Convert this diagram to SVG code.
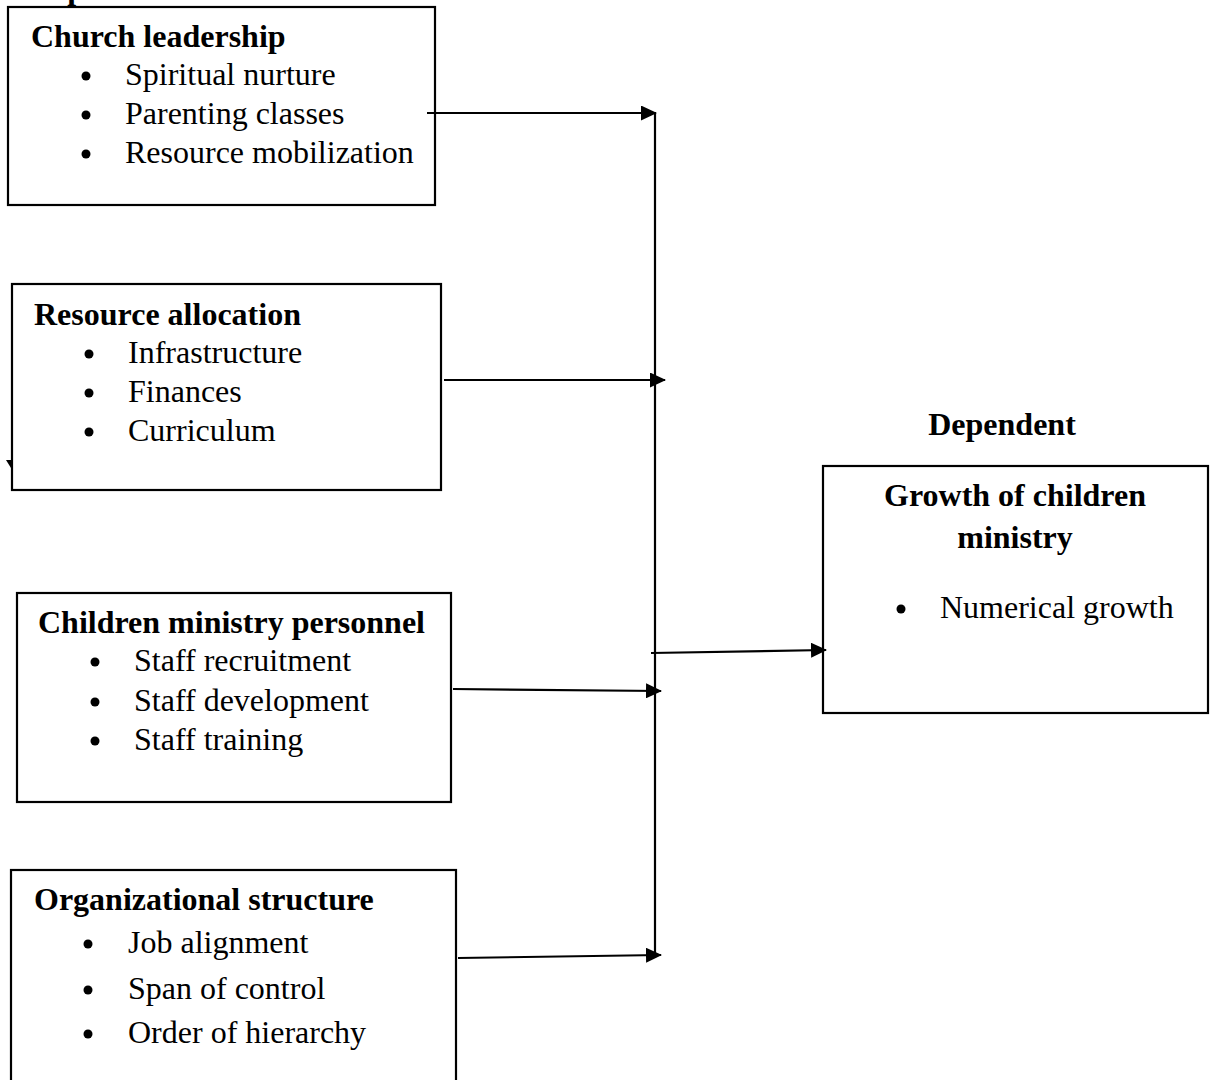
<svg xmlns="http://www.w3.org/2000/svg" width="1214" height="1080" viewBox="0 0 1214 1080">
<defs>
<style>
.box{fill:#fff;stroke:#000;stroke-width:2.2}
.h{font-family:"Liberation Serif","Times New Roman",serif;font-size:32px;font-weight:bold;fill:#000}
.t{font-family:"Liberation Serif","Times New Roman",serif;font-size:32px;fill:#000}
.b{fill:#000}
.c{stroke:#000;stroke-width:2.2;fill:none}
</style>
<marker id="ah" viewBox="0 0 16 15" refX="15" refY="7.5" markerWidth="16" markerHeight="15" markerUnits="userSpaceOnUse" orient="auto">
<path d="M0,0 L16,7.5 L0,15 z" fill="#000"/>
</marker>
</defs>
<rect width="1214" height="1080" fill="#fff"/>
<text class="h" x="5" y="-1">Independent</text>

<g id="n1">
<rect class="box" x="8" y="7" width="427" height="198"/>
<text class="h" x="31" y="47">Church leadership</text>
<circle class="b" cx="86" cy="76" r="4.5"/><text class="t" x="125" y="85">Spiritual nurture</text>
<circle class="b" cx="86" cy="115" r="4.5"/><text class="t" x="125" y="124">Parenting classes</text>
<circle class="b" cx="86" cy="154" r="4.5"/><text class="t" x="125" y="163">Resource mobilization</text>
</g>

<g id="n2">
<rect class="box" x="12" y="284" width="429" height="206"/>
<text class="h" x="34" y="325">Resource allocation</text>
<circle class="b" cx="89" cy="354" r="4.5"/><text class="t" x="128" y="363">Infrastructure</text>
<circle class="b" cx="89" cy="393" r="4.5"/><text class="t" x="128" y="402">Finances</text>
<circle class="b" cx="89" cy="432" r="4.5"/><text class="t" x="128" y="441">Curriculum</text>
<path d="M6,460 L12,460 L11,468 z" fill="#000"/>
</g>

<g id="n3">
<rect class="box" x="17" y="593" width="434" height="209"/>
<text class="h" x="38" y="633">Children ministry personnel</text>
<circle class="b" cx="95" cy="662" r="4.5"/><text class="t" x="134" y="671">Staff  recruitment</text>
<circle class="b" cx="95" cy="702" r="4.5"/><text class="t" x="134" y="711">Staff  development</text>
<circle class="b" cx="95" cy="741" r="4.5"/><text class="t" x="134" y="750">Staff training</text>
</g>

<g id="n4">
<rect class="box" x="11" y="870" width="445" height="230"/>
<text class="h" x="34" y="910">Organizational structure</text>
<circle class="b" cx="88" cy="944" r="4.5"/><text class="t" x="128" y="953">Job alignment</text>
<circle class="b" cx="88" cy="990" r="4.5"/><text class="t" x="128" y="999">Span of control</text>
<circle class="b" cx="88" cy="1034" r="4.5"/><text class="t" x="128" y="1043">Order of hierarchy</text>
</g>

<g id="n5">
<text class="h" x="1002" y="435" text-anchor="middle">Dependent</text>
<rect class="box" x="823" y="466" width="385" height="247"/>
<text class="h" x="1015" y="506" text-anchor="middle">Growth of children</text>
<text class="h" x="1015" y="548" text-anchor="middle">ministry</text>
<circle class="b" cx="901" cy="609" r="4.5"/><text class="t" x="940" y="618">Numerical growth</text>
</g>

<g id="connectors">
<line class="c" x1="655" y1="113" x2="655" y2="953"/>
<line class="c" x1="427" y1="113" x2="656" y2="113" marker-end="url(#ah)"/>
<line class="c" x1="444" y1="380" x2="665" y2="380" marker-end="url(#ah)"/>
<line class="c" x1="453" y1="689" x2="661" y2="691" marker-end="url(#ah)"/>
<line class="c" x1="458" y1="958" x2="661" y2="955" marker-end="url(#ah)"/>
<line class="c" x1="651" y1="653" x2="826" y2="650" marker-end="url(#ah)"/>
</g>
</svg>
